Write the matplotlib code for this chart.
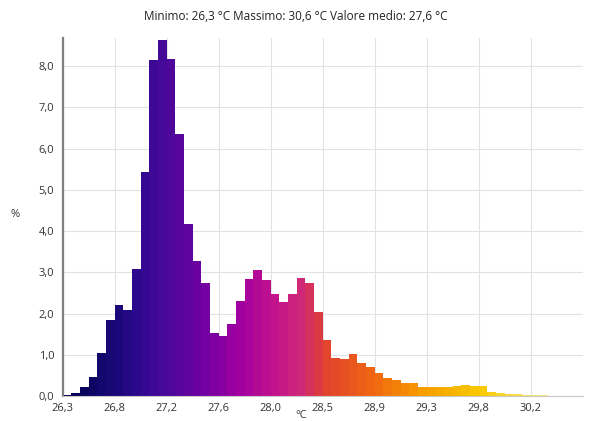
import numpy as np
import matplotlib
matplotlib.use("Agg")
import matplotlib.pyplot as plt
from matplotlib.colors import LinearSegmentedColormap
from matplotlib.ticker import FuncFormatter, MultipleLocator

plt.rcParams['font.family'] = ['Open Sans', 'DejaVu Sans']

t_min = 26.3
t_max = 30.6
# percentage of pixels in each of the 60 temperature bins
percent = [0.02, 0.07, 0.23, 0.46, 1.05, 1.84, 2.20, 2.09, 3.09, 5.44,
           8.14, 8.64, 8.17, 6.36, 4.17, 3.28, 2.75, 1.53, 1.46, 1.74,
           2.31, 2.84, 3.05, 2.82, 2.48, 2.29, 2.48, 2.87, 2.73, 2.04,
           1.37, 0.92, 0.89, 1.03, 0.81, 0.71, 0.55, 0.45, 0.39, 0.33,
           0.33, 0.23, 0.23, 0.21, 0.21, 0.24, 0.27, 0.25, 0.25, 0.11,
           0.08, 0.06, 0.05, 0.04, 0.03, 0.02, 0.015, 0.01, 0.01, 0.01]
tick_labels = ["26,3", "26,8", "27,2", "27,6", "28,0", "28,5", "28,9", "29,3", "29,8", "30,2"]
title = "Minimo: 26,3 °C Massimo: 30,6 °C Valore medio: 27,6 °C"

# thermal "iron" palette
iron = LinearSegmentedColormap.from_list("iron", [
    (0.00, '#050350'), (0.05, '#0a0660'), (0.10, '#1a0878'), (0.15, '#300890'),
    (0.20, '#4a0898'), (0.27, '#7000a0'), (0.34, '#a000a0'), (0.40, '#c0108f'),
    (0.46, '#d02878'), (0.50, '#e04030'), (0.60, '#f06810'), (0.70, '#f8a000'),
    (0.80, '#f8c800'), (0.90, '#f8e460'), (1.00, '#fff8e0')])

n = len(percent)
width = (t_max - t_min) / n
edges = t_min + width * np.arange(n)
colors = [iron((k + 0.5) / n) for k in range(n)]

fig = plt.figure(figsize=(5.91, 4.21), dpi=100)
ax = fig.add_axes([0.106, 0.059, 0.88, 0.851])

ax.bar(edges, percent, width=width, align='edge', color=colors, linewidth=0, zorder=2)

ax.set_xlim(t_min, t_max)
ax.set_ylim(0, 8.68)
ax.set_xticks(edges[::6])
ax.set_xticklabels(tick_labels)
ax.yaxis.set_major_locator(MultipleLocator(1))
ax.yaxis.set_major_formatter(FuncFormatter(lambda v, p: f"{v:.1f}".replace('.', ',')))

ax.grid(True, color='#e2e2e2', linewidth=0.8, zorder=0)
ax.set_axisbelow(True)
for s in ['top', 'right']:
    ax.spines[s].set_visible(False)
ax.spines['left'].set_color('#808080')
ax.spines['left'].set_linewidth(1.6)
ax.spines['bottom'].set_color('#c8c8c8')
ax.spines['bottom'].set_linewidth(0.8)
ax.tick_params(length=0, labelsize=8, colors='#333333')
ax.tick_params(axis='y', pad=6)
ax.tick_params(axis='x', pad=5)

fig.text(0.5, 0.96, title, ha='center', va='center', fontsize=8.5, color='#222222')
fig.text(0.51, 0.014, "°C", ha='center', va='center', fontsize=8, color='#333333')
fig.text(0.026, 0.49, "%", ha='center', va='center', fontsize=8, color='#333333')

fig.savefig("out.png", dpi=100)
